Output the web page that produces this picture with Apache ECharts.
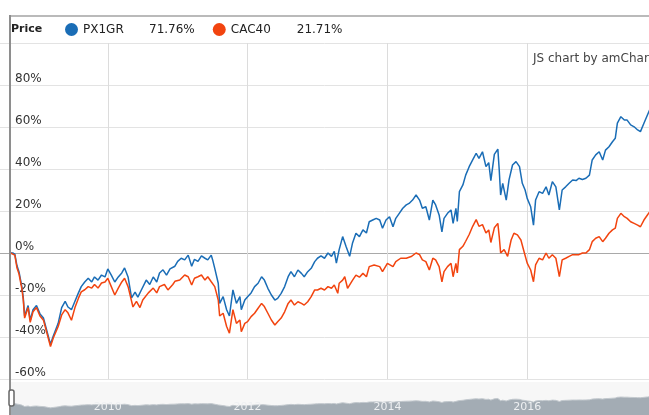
<!DOCTYPE html>
<html><head><meta charset="utf-8">
<script src="https://cdn.jsdelivr.net/npm/echarts/dist/echarts.min.js"></script>
<style>html,body{margin:0;padding:0;background:#fff}#c{width:649px;height:415px}</style>
</head><body><div id="c"></div>
<script>
// ---- data (decimal year, % change) ----
const seriesNames = ['PX1GR', 'CAC40'];
const legendValues = ['71.76%', '21.71%'];
const yTicks = [-60, -40, -20, 0, 20, 40, 60, 80, 100];
const yearTicks = [2010, 2012, 2014, 2016];

const pxData = [[2008.61,0],[2008.64,0],[2008.67,-0.5],[2008.70,-6],[2008.73,-9],[2008.77,-16],[2008.79,-21],[2008.81,-30],[2008.86,-25],[2008.89,-32],[2008.93,-27],[2008.98,-25],[2009.03,-29],[2009.08,-31],[2009.12,-36],[2009.18,-43.5],[2009.22,-39.5],[2009.29,-33.5],[2009.34,-26],[2009.39,-23],[2009.43,-25.7],[2009.48,-27],[2009.53,-23],[2009.58,-19],[2009.62,-16],[2009.67,-13.8],[2009.72,-12],[2009.77,-13.8],[2009.81,-11.4],[2009.86,-12.9],[2009.91,-10.5],[2009.96,-11.4],[2010.00,-7.6],[2010.05,-10.5],[2010.10,-13.8],[2010.15,-11.4],[2010.20,-9.5],[2010.24,-7.1],[2010.29,-11.4],[2010.34,-21.4],[2010.39,-18.6],[2010.43,-21],[2010.48,-17.6],[2010.55,-12.9],[2010.60,-15],[2010.65,-11.4],[2010.70,-13.8],[2010.74,-9.5],[2010.79,-8],[2010.84,-10.5],[2010.89,-7.6],[2010.96,-6.3],[2011.00,-4],[2011.05,-2.5],[2011.10,-3.3],[2011.15,-1],[2011.20,-6.3],[2011.24,-3],[2011.29,-4],[2011.34,-1.4],[2011.39,-2.5],[2011.43,-3.3],[2011.48,-1],[2011.50,-3.3],[2011.53,-7.3],[2011.58,-14.4],[2011.60,-24],[2011.65,-20.8],[2011.70,-27],[2011.74,-30],[2011.79,-17.6],[2011.84,-24],[2011.89,-20.8],[2011.91,-27],[2011.96,-22.4],[2012.00,-20.8],[2012.05,-19],[2012.10,-16],[2012.15,-14.4],[2012.20,-11.3],[2012.24,-12.9],[2012.29,-16.8],[2012.34,-20],[2012.39,-22.4],[2012.43,-21.6],[2012.48,-19.2],[2012.53,-16],[2012.58,-11.3],[2012.62,-8.9],[2012.67,-11.3],[2012.72,-8.1],[2012.77,-9.7],[2012.81,-11.3],[2012.86,-8.9],[2012.91,-7.3],[2012.96,-4.1],[2013.00,-2.5],[2013.05,-1.4],[2013.10,-2.5],[2013.15,0],[2013.20,-1.6],[2013.24,0.8],[2013.27,-4.8],[2013.31,1.6],[2013.36,7.8],[2013.41,3],[2013.46,-1.6],[2013.50,4.6],[2013.55,9.4],[2013.60,7.8],[2013.65,11],[2013.70,9.5],[2013.74,14.9],[2013.79,15.7],[2013.84,16.5],[2013.89,15.7],[2013.93,11.8],[2013.98,15.7],[2014.03,17.3],[2014.08,12.5],[2014.12,16.5],[2014.17,18.9],[2014.22,21.3],[2014.27,22.9],[2014.31,23.6],[2014.36,25.2],[2014.41,27.6],[2014.46,25.2],[2014.50,21.3],[2014.55,22],[2014.60,15.7],[2014.65,25.2],[2014.69,22.9],[2014.74,18.1],[2014.78,10.1],[2014.81,16.5],[2014.86,18.9],[2014.91,20.5],[2014.94,14.1],[2014.98,21.3],[2015.00,15],[2015.03,29.2],[2015.08,32.4],[2015.12,37.1],[2015.17,41.1],[2015.22,44.3],[2015.27,47.5],[2015.31,45.1],[2015.36,48.2],[2015.41,41.1],[2015.45,43],[2015.48,34.5],[2015.53,47],[2015.58,49.5],[2015.60,39.5],[2015.62,27.6],[2015.65,33.2],[2015.70,25.2],[2015.74,34.8],[2015.79,41.9],[2015.84,43.5],[2015.89,41.1],[2015.93,33.2],[2015.97,30],[2016.00,26],[2016.05,22],[2016.09,13.3],[2016.12,25.2],[2016.17,29.2],[2016.22,28.4],[2016.27,31.5],[2016.31,27.6],[2016.36,34],[2016.41,31.5],[2016.46,20.5],[2016.50,30],[2016.55,31.5],[2016.60,33.2],[2016.65,34.8],[2016.70,34.5],[2016.74,35.6],[2016.79,35],[2016.84,35.6],[2016.89,37.1],[2016.93,44.3],[2016.98,46.7],[2017.03,48.2],[2017.08,44.3],[2017.12,49],[2017.17,50.6],[2017.22,53],[2017.26,54.6],[2017.29,61.8],[2017.34,64.9],[2017.39,63.3],[2017.43,63.3],[2017.48,61],[2017.53,60.1],[2017.58,58.6],[2017.62,57.8],[2017.67,61.8],[2017.72,65.7],[2017.80,71.76]];

const cacData = [[2008.61,0],[2008.64,-0.5],[2008.67,-1],[2008.70,-7],[2008.73,-10],[2008.77,-17],[2008.79,-22],[2008.81,-31],[2008.86,-26],[2008.89,-33],[2008.93,-28],[2008.98,-26],[2009.03,-30],[2009.08,-32],[2009.12,-37],[2009.18,-44.5],[2009.22,-40.5],[2009.29,-35],[2009.34,-29.5],[2009.39,-27],[2009.43,-28.5],[2009.48,-32],[2009.53,-26],[2009.58,-21.5],[2009.62,-18.5],[2009.67,-17.5],[2009.72,-16],[2009.77,-16.7],[2009.81,-15],[2009.86,-16.7],[2009.91,-14.3],[2009.96,-13.8],[2010.00,-12],[2010.05,-16],[2010.10,-20],[2010.15,-16.7],[2010.20,-13.8],[2010.24,-12],[2010.29,-16],[2010.36,-25.7],[2010.41,-23],[2010.46,-26],[2010.50,-22.4],[2010.58,-19],[2010.65,-16.7],[2010.70,-19],[2010.74,-16],[2010.81,-15],[2010.86,-17.6],[2010.93,-15],[2010.96,-13.5],[2011.03,-12.9],[2011.10,-10.5],[2011.15,-11.3],[2011.20,-15.2],[2011.24,-12],[2011.29,-11.3],[2011.34,-10.5],[2011.39,-12.9],[2011.43,-11.3],[2011.48,-13.7],[2011.53,-16],[2011.58,-22.4],[2011.60,-30],[2011.65,-28.7],[2011.70,-35],[2011.74,-38.2],[2011.79,-27],[2011.84,-33.5],[2011.89,-31.9],[2011.91,-37.5],[2011.96,-33.5],[2012.00,-32.7],[2012.05,-30.3],[2012.10,-28.7],[2012.15,-26.3],[2012.20,-24],[2012.24,-25.5],[2012.29,-28.7],[2012.34,-31.9],[2012.39,-34.3],[2012.43,-32.7],[2012.48,-31],[2012.53,-28],[2012.58,-24],[2012.62,-22.4],[2012.67,-24.8],[2012.72,-23.2],[2012.77,-24],[2012.81,-24.8],[2012.86,-23.2],[2012.91,-20.8],[2012.96,-17.6],[2013.00,-17.6],[2013.05,-16.8],[2013.10,-17.6],[2013.15,-16],[2013.20,-16.8],[2013.24,-15.2],[2013.29,-19.2],[2013.31,-14.4],[2013.36,-12.9],[2013.39,-11.3],[2013.43,-16.8],[2013.50,-13],[2013.55,-10.5],[2013.60,-11.5],[2013.65,-9.7],[2013.70,-11.3],[2013.74,-6.5],[2013.81,-5.7],[2013.89,-6.5],[2013.93,-8.9],[2014.00,-4.9],[2014.08,-6.5],[2014.12,-4.1],[2014.19,-2.5],[2014.27,-2.5],[2014.34,-1.7],[2014.41,0],[2014.46,-0.8],[2014.50,-3.3],[2014.55,-4.1],[2014.60,-8.1],[2014.65,-2.5],[2014.69,-3.3],[2014.74,-6.5],[2014.78,-13.7],[2014.81,-8.9],[2014.86,-6.5],[2014.91,-4.9],[2014.94,-11.3],[2014.98,-4.9],[2015.00,-9.5],[2015.03,1.6],[2015.08,3.2],[2015.12,5.6],[2015.17,8.8],[2015.22,12.7],[2015.27,15.9],[2015.31,12.7],[2015.36,13.5],[2015.41,9.5],[2015.45,11],[2015.48,5],[2015.53,12],[2015.58,14.1],[2015.60,7.8],[2015.62,0],[2015.67,1.6],[2015.72,-1.6],[2015.77,6.2],[2015.81,9.4],[2015.86,8.6],[2015.91,6.2],[2015.96,0],[2016.00,-4.8],[2016.05,-8.1],[2016.09,-13.7],[2016.12,-5.7],[2016.17,-2.5],[2016.22,-3.3],[2016.27,0],[2016.31,-2.5],[2016.36,-0.8],[2016.41,-2.5],[2016.46,-11.3],[2016.50,-3.3],[2016.55,-2.5],[2016.60,-1.6],[2016.65,-0.8],[2016.70,-0.8],[2016.74,-0.8],[2016.79,0],[2016.84,0],[2016.89,1.6],[2016.93,5.4],[2016.98,7],[2017.03,7.8],[2017.08,5.4],[2017.12,7],[2017.17,9.4],[2017.22,11],[2017.26,11.8],[2017.29,16.5],[2017.34,18.9],[2017.39,17.3],[2017.43,16.5],[2017.48,14.9],[2017.53,14.1],[2017.58,13.3],[2017.62,12.5],[2017.67,15.7],[2017.72,18.1],[2017.80,21.71]];

// ---- styling ----
const FONT = 'DejaVu Sans';
const BLUE = '#1a6db6';
const RED = '#f2440f';
const gridLineColors = yTicks.map(v => v === 0 ? '#a9a9a9' : '#e3e3e3');

const chart = echarts.init(document.getElementById('c'), null, {renderer: 'canvas'});
const option = {
  animation: false,
  backgroundColor: '#ffffff',
  textStyle: {fontFamily: FONT},
  grid: [
    {left: -32, right: -18, top: 43, height: 336, outerBoundsMode: 'none', containLabel: false},
    {left: -32, right: -18, top: 385, height: 30, outerBoundsMode: 'none', containLabel: false}
  ],
  xAxis: [
    {type: 'value', gridIndex: 0, min: 2008, max: 2018, interval: 2,
     axisLine: {show: false}, axisTick: {show: false}, axisLabel: {show: false},
     splitLine: {show: true, lineStyle: {color: '#dcdcdc', width: 1}}},
    {type: 'value', gridIndex: 1, min: 2008, max: 2018, interval: 2, z: 10,
     axisLine: {show: false}, axisTick: {show: false}, splitLine: {show: false},
     axisLabel: {inside: true, margin: 2, color: '#eef0f2', fontSize: 11, fontFamily: FONT,
       verticalAlign: 'bottom',
       formatter: v => yearTicks.indexOf(v) >= 0 ? String(v) : ''}}
  ],
  yAxis: [
    {type: 'value', gridIndex: 0, min: yTicks[0], max: yTicks[yTicks.length - 1], interval: 20,
     axisLine: {show: false}, axisTick: {show: false},
     axisLabel: {inside: true, margin: 47, align: 'left', verticalAlign: 'bottom',
       color: '#333', fontSize: 12, fontFamily: FONT,
       formatter: v => v === 100 ? '' : v + '%'},
     splitLine: {show: true, lineStyle: {color: gridLineColors, width: 1}}},
    {type: 'value', gridIndex: 1, min: -115, max: 185, show: false}
  ],
  legend: {
    data: seriesNames, left: 60, top: 18, icon: 'circle', itemWidth: 13, itemHeight: 13, itemGap: 18,
    selectedMode: false,
    textStyle: {fontFamily: FONT, fontSize: 12, color: '#222',
      rich: {n: {width: 66, fontSize: 12, color: '#222', fontFamily: FONT},
             v: {width: 46, fontSize: 12, color: '#222', fontFamily: FONT}}},
    formatter: name => '{n|' + name + '}{v|' + legendValues[seriesNames.indexOf(name)] + '}'
  },
  series: [
    {name: seriesNames[0], type: 'line', xAxisIndex: 0, yAxisIndex: 0, data: pxData,
     symbol: 'none', z: 3, lineStyle: {width: 1.5, color: BLUE}, itemStyle: {color: BLUE}},
    {name: seriesNames[1], type: 'line', xAxisIndex: 0, yAxisIndex: 0, data: cacData,
     symbol: 'none', z: 4, lineStyle: {width: 1.5, color: RED}, itemStyle: {color: RED}},
    {name: 'scroll', type: 'line', xAxisIndex: 1, yAxisIndex: 1, data: pxData, silent: true,
     symbol: 'none', z: 2, lineStyle: {width: 1, color: '#c3c9ce'},
     areaStyle: {color: '#a3acb4', opacity: 1, origin: 'start'}}
  ],
  graphic: [
    {type: 'rect', z: -10, silent: true, shape: {x: 10, y: 382, width: 639, height: 33},
     style: {fill: '#f7f7f7'}},
    {type: 'line', z: 20, silent: true, shape: {x1: 9, y1: 16, x2: 649, y2: 16},
     style: {stroke: '#a3a3a3', lineWidth: 1.5}},
    {type: 'line', z: 20, silent: true, shape: {x1: 10, y1: 15, x2: 10, y2: 415},
     style: {stroke: '#8e8e8e', lineWidth: 2}},
    {type: 'text', z: 20, silent: true, left: 11, top: 24,
     style: {text: 'Price', font: 'bold 11px "DejaVu Sans"', fill: '#222'}},
    {type: 'text', z: 20, silent: true, left: 533, top: 53,
     style: {text: 'JS chart by amCharts', font: '12px "DejaVu Sans"', fill: '#444'}},
    {type: 'rect', z: 20, silent: true, shape: {x: 9, y: 390, width: 5, height: 16, r: 2},
     style: {fill: '#ffffff', stroke: '#666', lineWidth: 1.5}}
  ]
};
chart.setOption(option);
</script></body></html>
